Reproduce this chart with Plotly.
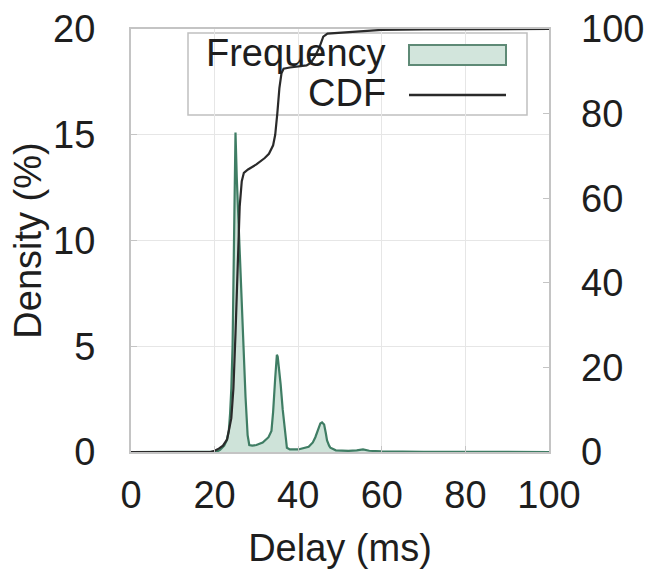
import plotly.graph_objects as go

# ---- data ----
freq_x = [0, 19, 20.5, 21.3, 22.3, 22.9, 23.4, 23.7, 24.0, 24.3, 24.6, 24.8, 25.0, 25.3,
          25.8, 26.2, 26.9, 27.4, 27.9, 28.3, 29, 30, 31.5, 32.9, 33.6, 34.0, 34.5, 34.9,
          35.1, 35.4, 35.8, 36.3, 36.8, 37.3, 38, 40, 42.5, 43.5, 44.1, 44.8, 45.3, 45.7,
          46.2, 46.6, 46.9, 47.4, 47.7, 49, 52, 54, 55.5, 57, 60, 70, 100]
freq_y = [0, 0, 0.02, 0.1, 0.3, 0.55, 1.0, 1.8, 3.0, 5.0, 10, 13, 15.1, 13,
          10.5, 8, 5, 2.6, 0.8, 0.33, 0.3, 0.33, 0.45, 0.7, 1.0, 1.9, 3.5, 4.6,
          4.5, 4.0, 3.2, 2.0, 1.0, 0.2, 0.12, 0.12, 0.25, 0.45, 0.7, 1.1, 1.35, 1.4,
          1.3, 0.9, 0.55, 0.3, 0.2, 0.08, 0.05, 0.08, 0.12, 0.06, 0.03, 0.01, 0]

cdf_x = [0, 19, 20, 21, 22, 23, 24, 24.5, 25, 25.5, 26, 26.5, 27, 28, 30, 32, 33, 34,
         34.5, 35, 35.5, 36, 36.5, 38, 40, 42, 43, 44, 45, 45.5, 46, 47, 50, 55, 57,
         60, 70, 100]
cdf_y = [0, 0, 0.3, 0.8, 1.5, 3, 8, 15, 28, 45, 58, 64, 66, 66.8, 68, 69.5, 70.5, 72.5,
         75, 80, 86, 89.5, 90.6, 90.9, 91.1, 91.4, 92, 93.5, 95.5, 97, 98.2, 98.9, 99.1,
         99.3, 99.6, 99.8, 99.9, 100]

x_ticks = [0, 20, 40, 60, 80, 100]
y_ticks = [0, 5, 10, 15, 20]
y2_ticks = [0, 20, 40, 60, 80, 100]

legend_labels = ["Frequency", "CDF"]

# ---- styles ----
FONT = "Liberation Sans, Arial, sans-serif"
TXT = "#1e1e1e"
FS = 38
GREEN_LINE = "#3f7d64"
GREEN_FILL = "rgba(180,212,196,0.65)"
CDF_COLOR = "#2a2a2a"
FRAME = "#c4c4c4"
GRID = "#e6e6e6"

fig = go.Figure()
fig.add_trace(go.Scatter(
    x=freq_x, y=freq_y, mode="lines", name=legend_labels[0],
    line=dict(color=GREEN_LINE, width=2.2), fill="tozeroy", fillcolor=GREEN_FILL,
    showlegend=False, yaxis="y"))
fig.add_trace(go.Scatter(
    x=cdf_x, y=cdf_y, mode="lines", name=legend_labels[1],
    line=dict(color=CDF_COLOR, width=2.2), showlegend=False, yaxis="y2"))

L, R, T, B = 131, 648 - 549, 29, 569 - 452

fig.update_layout(
    width=648, height=569,
    margin=dict(l=L, r=R, t=T, b=B, autoexpand=False),
    paper_bgcolor="white", plot_bgcolor="white",
    font=dict(family=FONT, size=FS, color=TXT),
    xaxis=dict(range=[0, 100], tickvals=x_ticks, showgrid=True, gridcolor=GRID, gridwidth=1,
               zeroline=False, showline=True, linecolor=FRAME, linewidth=2, mirror=True,
               ticks="inside", ticklen=6, tickcolor=FRAME, ticklabelstandoff=8,
               title=dict(text="Delay (ms)", standoff=27, font=dict(size=FS)),
               automargin=False),
    yaxis=dict(range=[0, 20], tickvals=y_ticks, showgrid=True, gridcolor=GRID, gridwidth=1,
               zeroline=False, showline=True, linecolor=FRAME, linewidth=2, mirror=True,
               ticks="inside", ticklen=6, tickcolor=FRAME, ticklabelstandoff=26,
               title=dict(text="Density (%)", standoff=0, font=dict(size=FS)),
               automargin=False),
    yaxis2=dict(range=[0, 100], tickvals=y2_ticks, overlaying="y", side="right",
                showgrid=False, zeroline=False, showline=False,
                ticks="inside", ticklen=6, tickcolor=FRAME, ticklabelstandoff=31,
                automargin=False),
)

# ---- gnuplot-style legend (text left of sample) ----
def px_x(p):
    return (p - 131) / 418.0

def px_y(p):
    return (452 - p) / 423.0

fig.add_shape(type="rect", xref="paper", yref="paper",
              x0=px_x(188), x1=px_x(527), y0=px_y(115), y1=px_y(33),
              line=dict(color="#c0c0c0", width=1.5), fillcolor="rgba(0,0,0,0)", layer="below")
fig.add_shape(type="rect", xref="paper", yref="paper",
              x0=px_x(409), x1=px_x(506), y0=px_y(65), y1=px_y(45),
              line=dict(color="#5e8a76", width=2), fillcolor="#d2e5dc")
fig.add_shape(type="line", xref="paper", yref="paper",
              x0=px_x(409), x1=px_x(506), y0=px_y(95), y1=px_y(95),
              line=dict(color=CDF_COLOR, width=2.5))
fig.add_annotation(text=legend_labels[0], xref="paper", yref="paper",
                   x=px_x(388), y=px_y(53), xanchor="right", yanchor="middle",
                   showarrow=False, font=dict(size=FS, color=TXT))
fig.add_annotation(text=legend_labels[1], xref="paper", yref="paper",
                   x=px_x(388), y=px_y(93), xanchor="right", yanchor="middle",
                   showarrow=False, font=dict(size=FS, color=TXT))

fig.write_html("out.html", config={"displayModeBar": False},
               post_script="document.body.style.margin='0';")
